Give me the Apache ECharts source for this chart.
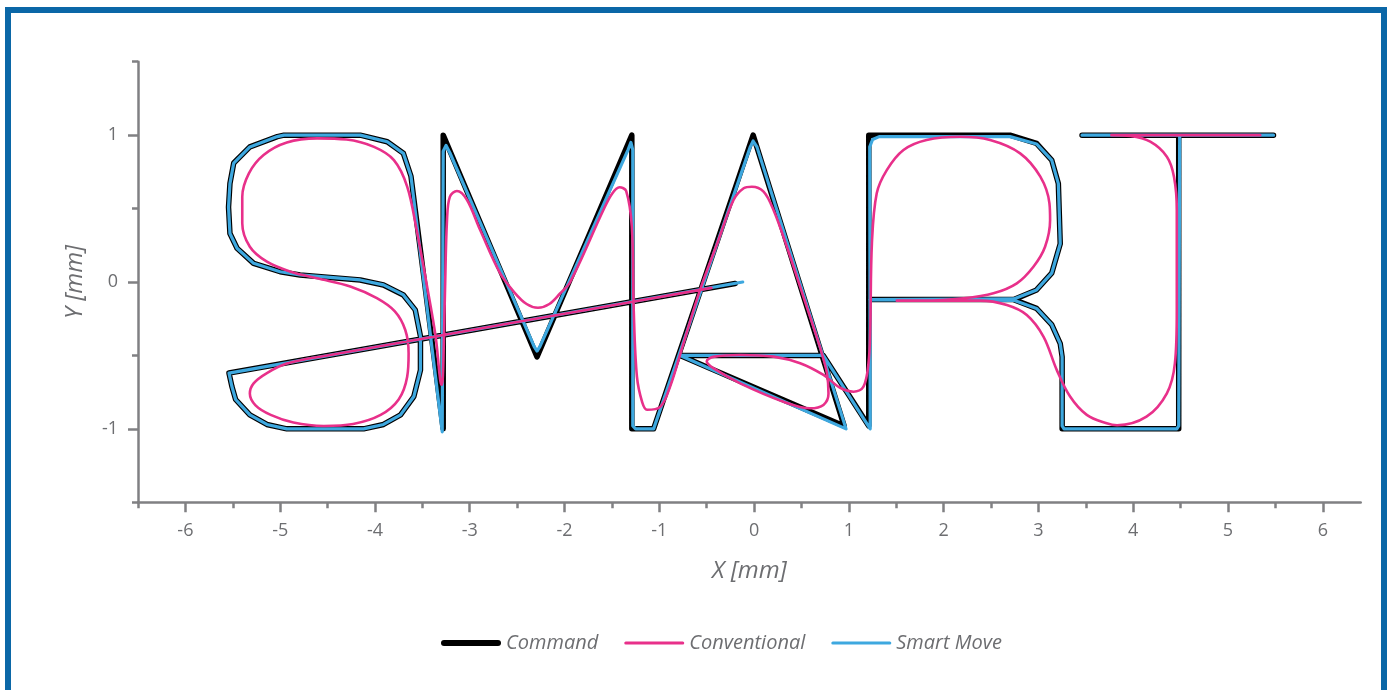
<!DOCTYPE html>
<html>
<head>
<meta charset="utf-8">
<script src="https://cdn.jsdelivr.net/npm/echarts@6/dist/echarts.min.js"></script>
<style>
  html, body { margin: 0; padding: 0; background: #ffffff; }
  #frame { position: absolute; left: 5px; top: 7px; width: 1370px; height: 720px; border: 6px solid #0b67a7; }
  #chart { position: absolute; left: 0; top: 0; width: 1388px; height: 690px; }
</style>
</head>
<body>
<div id="frame"></div>
<div id="chart"></div>
<script>
// ---- data ----
const xTickValues = [-6, -5, -4, -3, -2, -1, 0, 1, 2, 3, 4, 5, 6];
const xMinorTickValues = [-6.5, -5.5, -4.5, -3.5, -2.5, -1.5, -0.5, 0.5, 1.5, 2.5, 3.5, 4.5, 5.5];
const yTickValues = [-1, 0, 1];
const yMinorTickValues = [-1.5, -0.5, 0.5, 1.5];
const seriesNames = ['Command', 'Conventional', 'Smart Move'];

const commandPath = [
  [-0.2, -0.01], [-5.54, -0.62], [-5.51, -0.71], [-5.47, -0.80], [-5.32, -0.905], [-5.14, -0.97],
  [-4.93, -1.0], [-4.12, -1.0], [-3.91, -0.97], [-3.73, -0.905], [-3.59, -0.78], [-3.52, -0.60],
  [-3.52, -0.37], [-3.575, -0.19], [-3.70, -0.088], [-3.91, -0.02], [-4.155, 0.014], [-4.79, 0.048],
  [-5.0, 0.07], [-5.28, 0.127], [-5.455, 0.23], [-5.53, 0.33], [-5.545, 0.51], [-5.53, 0.67],
  [-5.49, 0.81], [-5.32, 0.92], [-5.03, 0.99], [-4.96, 1.0], [-4.155, 1.0], [-3.87, 0.955],
  [-3.70, 0.876], [-3.62, 0.72], [-3.28, -1.0], [-3.28, 1.0], [-2.29, -0.51], [-1.29, 1.0],
  [-1.29, -1.0], [-1.06, -1.0], [-0.01, 1.0], [0.95, -0.98], [-0.78, -0.5], [0.73, -0.5],
  [1.21, -0.98], [1.21, 1.0], [2.70, 1.0], [2.98, 0.944], [3.14, 0.83], [3.21, 0.67],
  [3.23, 0.26], [3.14, 0.06], [2.98, -0.054], [2.74, -0.12], [1.21, -0.12], [2.74, -0.12],
  [2.98, -0.18], [3.14, -0.29], [3.23, -0.42], [3.25, -0.51], [3.25, -1.0], [4.48, -1.0],
  [4.48, 1.0], [3.46, 1.0], [5.48, 1.0]
];

const smartMovePath = [
  [-0.12, 0.0], [-5.54, -0.62], [-5.51, -0.71], [-5.47, -0.80], [-5.32, -0.905], [-5.14, -0.97],
  [-4.93, -1.0], [-4.12, -1.0], [-3.91, -0.97], [-3.73, -0.905], [-3.59, -0.78], [-3.52, -0.60],
  [-3.52, -0.37], [-3.575, -0.19], [-3.70, -0.088], [-3.91, -0.02], [-4.155, 0.014], [-4.79, 0.048],
  [-5.0, 0.07], [-5.28, 0.127], [-5.455, 0.23], [-5.53, 0.33], [-5.545, 0.51], [-5.53, 0.67],
  [-5.49, 0.81], [-5.32, 0.92], [-5.03, 0.99], [-4.96, 1.0], [-4.155, 1.0], [-3.87, 0.955],
  [-3.70, 0.876], [-3.62, 0.72], [-3.29, -1.02], [-3.28, 0.89], [-3.25, 0.93], [-3.21, 0.88],
  [-2.32, -0.44], [-2.29, -0.47], [-2.26, -0.44], [-1.33, 0.90], [-1.30, 0.95], [-1.28, 0.90],
  [-1.28, -0.98], [-1.25, -1.0], [-1.06, -1.0], [-0.04, 0.92], [-0.01, 0.96], [0.03, 0.92],
  [0.97, -1.0], [-0.78, -0.5], [0.73, -0.5], [1.225, -1.0], [1.22, 0.92], [1.25, 0.97],
  [1.32, 0.99], [2.70, 0.99], [2.98, 0.94], [3.14, 0.83], [3.21, 0.67], [3.23, 0.26],
  [3.14, 0.06], [2.98, -0.054], [2.74, -0.115], [1.22, -0.12], [2.74, -0.125], [2.98, -0.18],
  [3.14, -0.29], [3.23, -0.42], [3.25, -0.51], [3.25, -0.98], [3.27, -1.0], [4.46, -1.0],
  [4.48, -0.98], [4.49, 1.0], [3.46, 1.0], [5.48, 1.0]
];

const conventionalPath = [
  [-0.45, -0.04], [-2.5, -0.273], [-4.5, -0.50], [-4.93, -0.555], [-5.14, -0.62], [-5.28, -0.69],
  [-5.32, -0.76], [-5.26, -0.84], [-5.10, -0.905], [-4.86, -0.957], [-4.54, -0.98], [-4.23, -0.967],
  [-3.94, -0.905], [-3.75, -0.80], [-3.66, -0.645], [-3.645, -0.485], [-3.68, -0.327], [-3.79, -0.20],
  [-3.98, -0.11], [-4.26, -0.03], [-4.61, 0.025], [-4.89, 0.07], [-5.14, 0.138], [-5.32, 0.24],
  [-5.40, 0.40], [-5.40, 0.58], [-5.33, 0.74], [-5.175, 0.865], [-4.93, 0.95], [-4.61, 0.978],
  [-4.30, 0.97], [-4.01, 0.92], [-3.80, 0.83], [-3.66, 0.65], [-3.56, 0.354], [-3.45, -0.03],
  [-3.36, -0.37], [-3.32, -0.62], [-3.305, -0.69], [-3.295, -0.70], [-3.285, -0.66], [-3.276, -0.485],
  [-3.26, -0.03], [-3.24, 0.42], [-3.21, 0.58], [-3.135, 0.62], [-3.03, 0.56], [-2.89, 0.354],
  [-2.68, 0.06], [-2.53, -0.07], [-2.40, -0.15], [-2.28, -0.175], [-2.16, -0.15], [-2.05, -0.08],
  [-1.94, 0.0], [-1.59, 0.49], [-1.50, 0.60], [-1.42, 0.645], [-1.35, 0.62], [-1.29, 0.376],
  [-1.27, -0.19], [-1.236, -0.645], [-1.18, -0.82], [-1.13, -0.87], [-0.99, -0.85], [-0.885, -0.71],
  [-0.76, -0.45], [-0.57, -0.054], [-0.39, 0.26], [-0.217, 0.558], [-0.11, 0.638], [-0.023, 0.649],
  [0.10, 0.615], [0.205, 0.49], [0.346, 0.24], [0.52, -0.10], [0.66, -0.372], [0.714, -0.485],
  [0.768, -0.62], [0.785, -0.76], [0.732, -0.837], [0.59, -0.86], [0.31, -0.815], [-0.147, -0.69],
  [-0.43, -0.587], [-0.50, -0.54], [-0.43, -0.51], [-0.147, -0.497], [0.205, -0.508], [0.486, -0.553],
  [0.732, -0.633], [0.908, -0.72], [1.05, -0.747], [1.154, -0.713], [1.207, -0.553], [1.225, -0.327],
  [1.243, 0.263], [1.294, 0.604], [1.40, 0.762], [1.576, 0.899], [1.82, 0.967], [2.174, 0.989],
  [2.49, 0.967], [2.807, 0.876], [3.02, 0.717], [3.116, 0.536], [3.123, 0.422], [3.07, 0.24],
  [2.947, 0.104], [2.772, -0.009], [2.525, -0.077], [2.21, -0.111], [1.787, -0.127], [1.506, -0.127],
  [1.963, -0.127], [2.385, -0.127], [2.667, -0.157], [2.877, -0.225], [3.053, -0.372], [3.194, -0.60],
  [3.334, -0.78], [3.51, -0.905], [3.72, -0.962], [3.83, -0.975], [4.14, -0.917], [4.355, -0.758],
  [4.44, -0.553], [4.46, -0.19], [4.46, 0.49], [4.43, 0.717], [4.355, 0.853], [4.18, 0.955],
  [3.97, 0.994], [3.77, 1.0], [5.34, 1.0]
];

// ---- styles ----
const axisColor = '#808083';
const textColor = '#6d6e71';
const fontFamily = '"Open Sans", Lato, sans-serif';
const cmdColor = '#000000';
const convColor = '#e8308a';
const smartColor = '#3ea8df';

const chart = echarts.init(document.getElementById('chart'), null, { renderer: 'canvas' });

function baseAxis(min, max) {
  return {
    type: 'value', min: min, max: max,
    splitLine: { show: false },
    axisLine: { show: true, onZero: false, lineStyle: { color: axisColor, width: 2.5 } },
  };
}

const option = {
  animation: false,
  backgroundColor: 'transparent',
  grid: { left: 138, right: 27.3, top: 61.7, bottom: 187.7, containLabel: false, outerBoundsMode: 'none' },
  legend: {
    left: 436, top: 628,
    itemWidth: 60, itemHeight: 22, itemGap: 26,
    textStyle: { color: textColor, fontSize: 20, fontStyle: 'italic', fontFamily: fontFamily },
    itemStyle: { borderWidth: 0 },
    data: [
      { name: seriesNames[0], icon: 'path://M3,0 H57 A3,3 0 0 1 57,6 H3 A3,3 0 0 1 3,0 Z' },
      { name: seriesNames[1], icon: 'path://M1.5,0 H58.5 A1.5,1.5 0 0 1 58.5,3 H1.5 A1.5,1.5 0 0 1 1.5,0 Z' },
      { name: seriesNames[2], icon: 'path://M1.5,0 H58.5 A1.5,1.5 0 0 1 58.5,3 H1.5 A1.5,1.5 0 0 1 1.5,0 Z' }
    ]
  },
  xAxis: [
    Object.assign(baseAxis(-6.5, 6.4), {
      position: 'bottom',
      name: 'X [mm]', nameLocation: 'middle', nameGap: 57,
      nameTextStyle: { color: textColor, fontSize: 24, fontStyle: 'italic', fontFamily: fontFamily },
      axisTick: { show: true, customValues: xTickValues, length: 10, lineStyle: { color: axisColor, width: 2.5 } },
      axisLabel: { show: true, customValues: xTickValues, margin: 20, color: textColor, fontSize: 18, fontFamily: fontFamily }
    }),
    Object.assign(baseAxis(-6.5, 6.4), {
      position: 'bottom',
      axisLine: { show: false, onZero: false },
      axisTick: { show: true, customValues: xMinorTickValues, length: 6, lineStyle: { color: axisColor, width: 2.5 } },
      axisLabel: { show: false }
    })
  ],
  yAxis: [
    Object.assign(baseAxis(-1.5, 1.5), {
      position: 'left',
      name: 'Y [mm]', nameLocation: 'middle', nameGap: 51,
      nameTextStyle: { color: textColor, fontSize: 24, fontStyle: 'italic', fontFamily: fontFamily },
      axisTick: { show: true, customValues: yTickValues, length: 10, lineStyle: { color: axisColor, width: 2.5 } },
      axisLabel: { show: true, customValues: yTickValues, margin: 20, color: textColor, fontSize: 18, fontFamily: fontFamily }
    }),
    Object.assign(baseAxis(-1.5, 1.5), {
      position: 'left',
      axisLine: { show: false, onZero: false },
      axisTick: { show: true, customValues: yMinorTickValues, length: 6, lineStyle: { color: axisColor, width: 2.5 } },
      axisLabel: { show: false }
    })
  ],
  series: [
    {
      name: seriesNames[0], type: 'line', data: commandPath, xAxisIndex: 0, yAxisIndex: 0,
      symbol: 'none', z: 2, color: cmdColor,
      lineStyle: { color: cmdColor, width: 5.5, join: 'round', cap: 'round' }
    },
    {
      name: seriesNames[2], type: 'line', data: smartMovePath, xAxisIndex: 0, yAxisIndex: 0,
      symbol: 'none', z: 3, color: smartColor,
      lineStyle: { color: smartColor, width: 3.2, join: 'round', cap: 'round' }
    },
    {
      name: seriesNames[1], type: 'line', data: conventionalPath, xAxisIndex: 0, yAxisIndex: 0,
      symbol: 'none', z: 4, color: convColor, smooth: 0.35,
      lineStyle: { color: convColor, width: 2.6, join: 'round', cap: 'round' }
    }
  ]
};
chart.setOption(option);
</script>
</body>
</html>
